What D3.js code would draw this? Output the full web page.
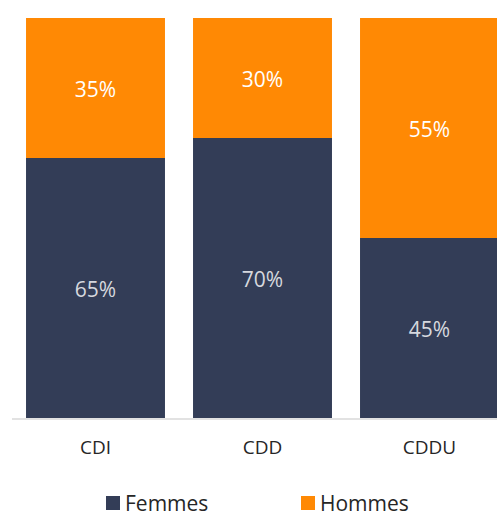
<!DOCTYPE html>
<html>
<head>
<meta charset="utf-8">
<script src="https://cdn.jsdelivr.net/npm/d3@7"></script>
<style>
  body { margin: 0; background: #fff; }
  svg { display: block; }
</style>
</head>
<body>
<svg id="chart" width="497" height="511"></svg>
<script>
var categories = ['CDI', 'CDD', 'CDDU']
var femmes = [65, 70, 45]
var hommes = [35, 30, 55]
var seriesNames = ['Femmes', 'Hommes']

var FEMMES_COLOR = '#333d57',
	HOMMES_COLOR = '#ff8904',
	AXIS_COLOR = '#d9d9d9',
	TEXT_COLOR = '#262626'

var svg = d3.select('#chart')

var rows = categories.map(function(c, i){
	return { cat: c, Femmes: femmes[i], Hommes: hommes[i] }
})

var stack = d3.stack().keys(seriesNames)(rows)

var x = d3.scaleBand()
	.domain(categories)
	.range([12, 513])
	.paddingInner(0.168)
	.paddingOuter(0.084)

var y = d3.scaleLinear()
	.domain([0, 100])
	.range([418, 18])

var color = d3.scaleOrdinal()
	.domain(seriesNames)
	.range([FEMMES_COLOR, HOMMES_COLOR])

var layers = svg.selectAll('g.layer')
	.data(stack)
	.enter().append('g')
		.attr('class', 'layer')
		.attr('fill', function(d){ return color(d.key) })

layers.selectAll('rect')
	.data(function(d){ return d })
	.enter().append('rect')
		.attr('x', function(d){ return x(d.data.cat) })
		.attr('width', x.bandwidth())
		.attr('y', function(d){ return y(d[1]) })
		.attr('height', function(d){ return y(d[0]) - y(d[1]) })

// percentage labels in the middle of each segment
layers.each(function(s){
	d3.select(this).selectAll('text')
		.data(s)
		.enter().append('text')
			.attr('x', function(d){ return x(d.data.cat) + x.bandwidth()/2 })
			.attr('y', function(d){ return (y(d[0]) + y(d[1]))/2 + 2 })
			.attr('dy', '0.35em')
			.attr('text-anchor', 'middle')
			.attr('font-family', 'Open Sans, sans-serif')
			.attr('font-size', 21)
			.attr('fill', s.key == 'Femmes' ? '#d6d8de' : '#ffffff')
			.text(function(d){ return (d[1] - d[0]) + '%' })
})

// axis
var xAxis = svg.append('g')
	.attr('transform', 'translate(0,419)')
	.call(d3.axisBottom(x).tickSize(0).tickPadding(22))

xAxis.attr('font-size', 19).attr('font-family', 'Open Sans, sans-serif')

xAxis.select('.domain')
	.attr('d', 'M12,0H513')
	.attr('stroke', AXIS_COLOR)
	.attr('stroke-width', 1.5)

xAxis.selectAll('.tick text')
	.style('font-size', '19px')
	.attr('fill', TEXT_COLOR)

// legend
var legendX = [106, 301]
var legend = svg.selectAll('g.legend')
	.data(seriesNames)
	.enter().append('g')
		.attr('class', 'legend')
		.attr('transform', function(d, i){ return 'translate(' + legendX[i] + ',496)' })

legend.append('rect')
	.attr('width', 14)
	.attr('height', 14)
	.attr('fill', function(d){ return color(d) })

legend.append('text')
	.attr('x', 19)
	.attr('y', 7)
	.attr('dy', '0.36em')
	.attr('font-family', 'Open Sans, sans-serif')
	.attr('font-size', 21)
	.attr('fill', TEXT_COLOR)
	.text(function(d){ return d })
</script>
</body>
</html>
